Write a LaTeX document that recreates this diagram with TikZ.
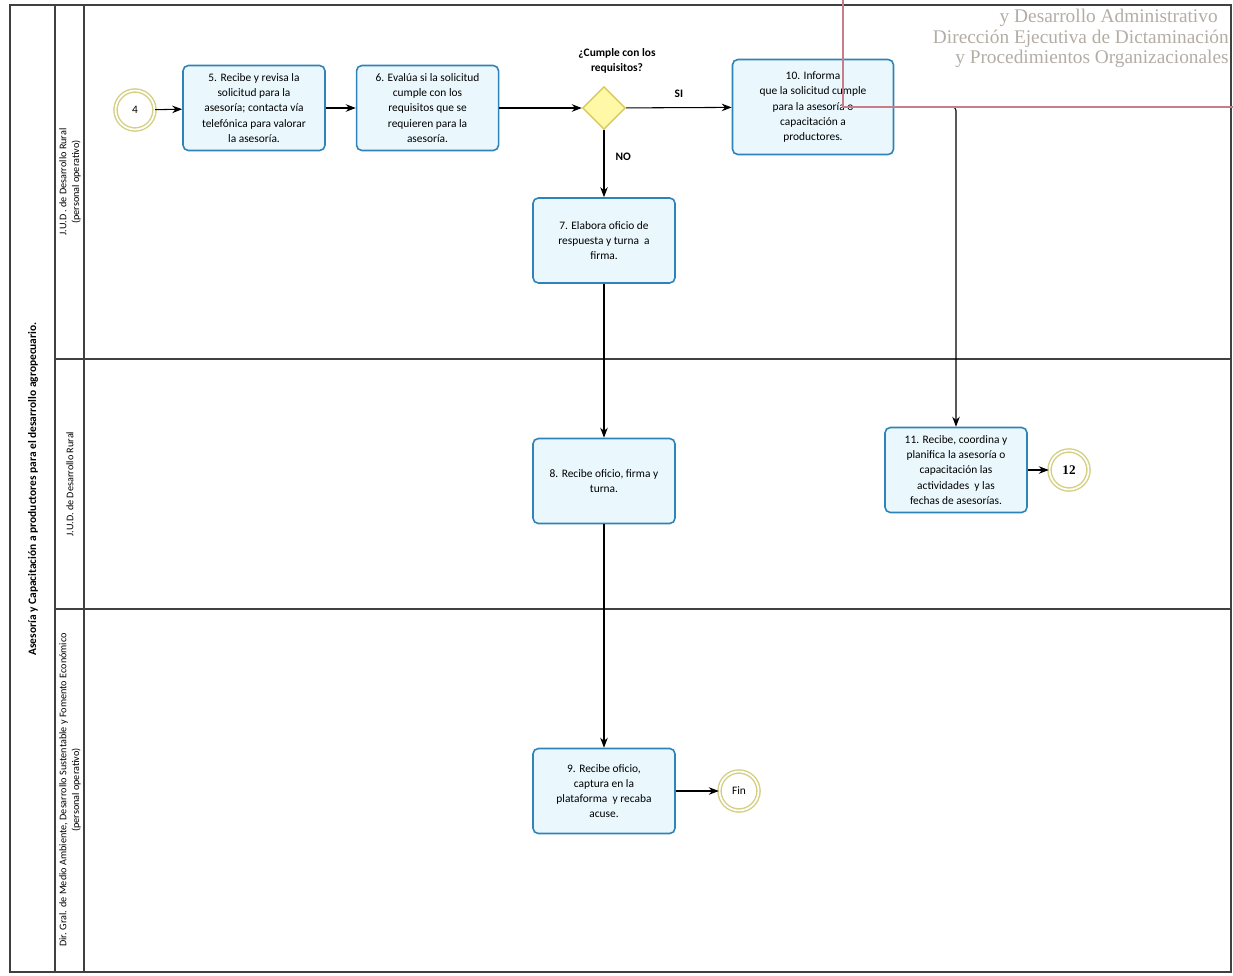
\documentclass[tikz,border=0pt]{standalone}
\usepackage{fontspec}
\setmainfont{Carlito}
\newfontfamily\stampfont{Liberation Serif}
\usepackage{xcolor}
\usetikzlibrary{arrows.meta, positioning, shapes.geometric}

\definecolor{taskline}{HTML}{2F83B8}
\definecolor{taskfill}{HTML}{EAF7FC}
\definecolor{evline}{HTML}{D4CF82}
\definecolor{gwfill}{HTML}{FFF8A6}
\definecolor{gwline}{HTML}{D8CB5E}
\definecolor{stampline}{HTML}{C97C8A}
\definecolor{stamptext}{HTML}{B3ADA5}

\begin{document}
\begin{tikzpicture}[
        x=0.02cm, y=-0.02cm,
        every node/.style={font=\fontsize{6.5}{8.6}\selectfont},
        task/.style={rectangle, rounded corners=3pt, draw=taskline, fill=taskfill, line width=0.9pt, minimum width=2.84cm, minimum height=1.7cm, align=center, inner sep=2pt},
        evt/.style={circle, draw=evline, double=white, double distance=1pt, line width=0.8pt, fill=white, minimum size=0.78cm, inner sep=0pt},
        gate/.style={diamond, draw=gwline, fill=gwfill, line width=0.8pt, minimum width=0.86cm, minimum height=0.86cm, aspect=1, inner sep=0pt},
        lanelbl/.style={rotate=90, align=center, font=\fontsize{5.8}{7.2}\selectfont},
        stamp/.style={anchor=base east, text=stamptext, font=\stampfont\fontsize{11}{13}\selectfont, inner sep=0pt},
        flow/.style={->, line width=0.6pt},
        >=Stealth
    ]
        \useasboundingbox (0,0) rectangle (1233,975);

        % pool and lanes
        \draw[line width=0.6pt, black!75] (10,5) rectangle (1231,972);
        \draw[line width=0.6pt, black!75] (55,5) -- (55,972);
        \draw[line width=0.6pt, black!75] (84,5) -- (84,972);
        \draw[line width=0.6pt, black!75] (55,359) -- (1231,359);
        \draw[line width=0.6pt, black!75] (55,609) -- (1231,609);

        \node[rotate=90, font=\bfseries\fontsize{6.5}{8}\selectfont] (title) at (33,489) {Asesoría y Capacitación a productores para el desarrollo agropecuario.};
        \node[lanelbl] (lane1) at (70,182) {J.U.D . de Desarrollo Rural\\(personal operativo)};
        \node[lanelbl] (lane2) at (70,484) {J.U.D. de Desarrollo Rural};
        \node[lanelbl] (lane3) at (70,790) {Dir. Gral. de Medio Ambiente, Desarrollo Sustentable y Fomento Económico\\(personal operativo)};

        % lane 1
        \node[evt] (e4) at (135,110) {4};
        \node[task] (t5) at (254,108) {5. Recibe y revisa la\\solicitud para la\\asesoría; contacta vía\\telefónica para valorar\\la asesoría.};
        \node[task, right=0.6cm of t5] (t6) {6. Evalúa si la solicitud\\cumple con los\\requisitos que se\\requieren para la\\asesoría.};
        \node[gate] (gw) at (604,108) {};
        \node[align=center, font=\bfseries\fontsize{6.5}{8.6}\selectfont, above=0.12cm of gw, xshift=0.26cm] (gwq) {¿Cumple con los\\requisitos?};
        \node[task, minimum width=3.22cm, minimum height=1.9cm] (t10) at (813,107) {10. Informa\\que la solicitud cumple\\para la asesoría o\\capacitación a\\productores.};
        \node[task, below=1.34cm of gw] (t7) {7. Elabora oficio de\\respuesta y turna\ \ a\\firma.};

        % lane 2
        \node[task] (t8) at (604,481) {8. Recibe oficio, firma y\\turna.};
        \node[task] (t11) at (956,470) {11. Recibe, coordina y\\planifica la asesoría o\\capacitación las\\actividades\ \ y las\\fechas de asesorías.};
        \node[evt, font=\stampfont\bfseries\fontsize{7.5}{9}\selectfont] (e12) at (1069,470) {12};

        % lane 3
        \node[task] (t9) at (604,791) {9. Recibe oficio,\\captura en la\\plataforma\ \ y recaba\\acuse.};
        \node[evt] (fin) at (739,791) {Fin};

        \draw[flow] (e4) -- (t5);
        \draw[flow] (t5) -- (t6);
        \draw[flow] (t6) -- (gw);
        \draw[flow] (gw) -- node[above=2pt, font=\bfseries\fontsize{6.5}{8}\selectfont]{SI} (t10);
        \draw[flow] (gw) -- node[pos=0.4, right=3pt, font=\bfseries\fontsize{6.5}{8}\selectfont]{NO} (t7);
        \draw[flow] (t7) -- (t8);
        \draw[flow] (t8) -- (t9);
        \draw[flow] (t9) -- (fin);
        \draw[flow, rounded corners=2pt] (t10.east) -| (t11.north);
        \draw[flow] (t11) -- (e12);

        % stamp
        \draw[stampline, line width=0.9pt] (843,-10) -- (843,107) -- (1245,107);
        \node[stamp] (st1) at (1218,22) {y Desarrollo Administrativo};
        \node[stamp] (st2) at (1229,43) {Dirección Ejecutiva de Dictaminación};
        \node[stamp] (st3) at (1229,63) {y Procedimientos Organizacionales};
    \end{tikzpicture}
\end{document}
